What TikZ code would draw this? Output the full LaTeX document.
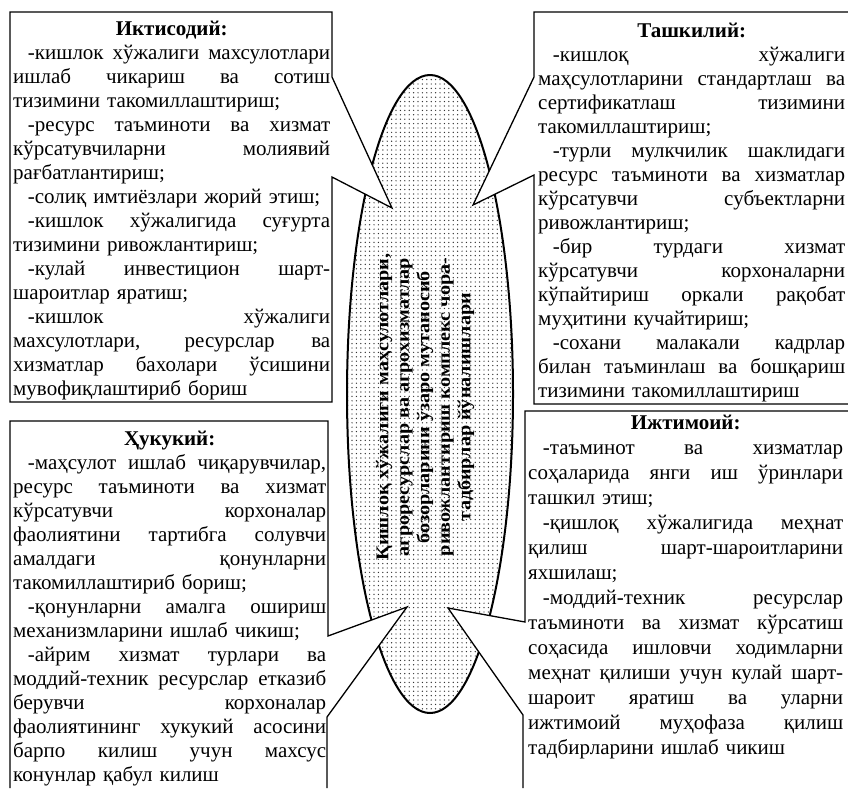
\documentclass[tikz,border=0pt]{standalone}
\usepackage{fontspec}
\setmainfont{Liberation Serif}
\newfontfamily\ctrfont[FakeStretch=1.12]{Liberation Serif}
\usetikzlibrary{patterns.meta}
\newcommand\J[1]{\makebox[\hsize][s]{\spaceskip=0pt\xspaceskip=0pt #1}}
\newcommand\I{\hspace*{0.7em}}
\newcommand\Hd[1]{\makebox[\hsize][c]{\strut\textbf{#1}}}
\tikzset{
  frame/.style={draw=black, line width=1.3pt, fill=white, line join=miter},
  txt/.style={anchor=north west, inner sep=0pt, align=left, text width=#1,
              font=\fontsize{21}{24}\selectfont},
}
\begin{document}
\begin{tikzpicture}[x=1pt,y=-1pt]
\useasboundingbox (0,0) rectangle (848,788);
% central ellipse
\path[fill=white] (430,394) ellipse [x radius=83, y radius=319];
\path[pattern={Dots[radius=0.7pt, distance=4.4pt]}, pattern color=black!80] (430,394) ellipse [x radius=83, y radius=319];
\draw[line width=2pt] (430,394) ellipse [x radius=83, y radius=319];
\node[rotate=90, align=center, inner sep=0pt,
      font=\ctrfont\bfseries\fontsize{18}{20.5}\selectfont] (title) at (425,407)
  {Қишлоқ хўжалиги маҳсулотлари,\\агроресурслар ва агрохизматлар\\бозорларини ўзаро мутаносиб\\ривожлантириш комплекс чора-\\тадбирлар йўналишлари};
% callout frames
\draw[frame] (10,12) -- (332,12) -- (332,77) -- (392,208) -- (332,177) -- (332,402) -- (10,402) -- cycle;
\draw[frame] (848,12) -- (534,12) -- (534,77) -- (473,205) -- (534,175) -- (534,404) -- (848,404);
\draw[frame] (10,788) -- (10,421) -- (328,421) -- (328,636) -- (407,607) -- (327,717) -- (327,788);
\draw[frame] (848,411) -- (525,411) -- (525,622) -- (448,608) -- (523,715) -- (523,788);
% texts
\node[txt=317pt] (econ) at (13,18.2) {%
\Hd{Иктисодий:}\\
\J{\I-кишлок хўжалиги махсулотлари}\\
\J{ишлаб чикариш ва сотиш}\\
тизимини такомиллаштириш;\\
\J{\I-ресурс таъминоти ва хизмат}\\
\J{кўрсатувчиларни молиявий}\\
рағбатлантириш;\\
\I-солиқ имтиёзлари жорий этиш;\\
\J{\I-кишлок хўжалигида суғурта}\\
тизимини ривожлантириш;\\
\J{\I-кулай инвестицион шарт-}\\
шароитлар яратиш;\\
\J{\I-кишлок хўжалиги}\\
\J{махсулотлари, ресурслар ва}\\
\J{хизматлар бахолари ўсишини}\\
мувофиқлаштириб бориш};
\node[txt=307pt] (org) at (538,20.2) {%
\Hd{Ташкилий:}\\
\J{\I-кишлоқ хўжалиги}\\
\J{маҳсулотларини стандартлаш ва}\\
\J{сертификатлаш тизимини}\\
такомиллаштириш;\\
\J{\I-турли мулкчилик шаклидаги}\\
\J{ресурс таъминоти ва хизматлар}\\
\J{кўрсатувчи субъектларни}\\
ривожлантириш;\\
\J{\I-бир турдаги хизмат}\\
\J{кўрсатувчи корхоналарни}\\
\J{кўпайтириш оркали рақобат}\\
муҳитини кучайтириш;\\
\J{\I-сохани малакали кадрлар}\\
\J{билан таъминлаш ва бошқариш}\\
тизимини такомиллаштириш};
\node[txt=313pt] (law) at (13,428.2) {%
\Hd{Ҳукукий:}\\
\J{\I-маҳсулот ишлаб чиқарувчилар,}\\
\J{ресурс таъминоти ва хизмат}\\
\J{кўрсатувчи корхоналар}\\
\J{фаолиятини тартибга солувчи}\\
\J{амалдаги қонунларни}\\
такомиллаштириб бориш;\\
\J{\I-қонунларни амалга ошириш}\\
механизмларини ишлаб чикиш;\\
\J{\I-айрим хизмат турлари ва}\\
\J{моддий-техник ресурслар етказиб}\\
\J{берувчи корхоналар}\\
\J{фаолиятининг хукукий асосини}\\
\J{барпо килиш учун махсус}\\
конунлар қабул килиш};
\node[txt=315pt, font=\fontsize{21}{25}\selectfont] (social) at (528,412.2) {%
\Hd{Ижтимоий:}\\
\J{\I-таъминот ва хизматлар}\\
\J{соҳаларида янги иш ўринлари}\\
ташкил этиш;\\
\J{\I-қишлоқ хўжалигида меҳнат}\\
\J{қилиш шарт-шароитларини}\\
яхшилаш;\\
\J{\I-моддий-техник ресурслар}\\
\J{таъминоти ва хизмат кўрсатиш}\\
\J{соҳасида ишловчи ходимларни}\\
\J{меҳнат қилиши учун кулай шарт-}\\
\J{шароит яратиш ва уларни}\\
\J{ижтимоий муҳофаза қилиш}\\
тадбирларини ишлаб чикиш};
\end{tikzpicture}
\end{document}
